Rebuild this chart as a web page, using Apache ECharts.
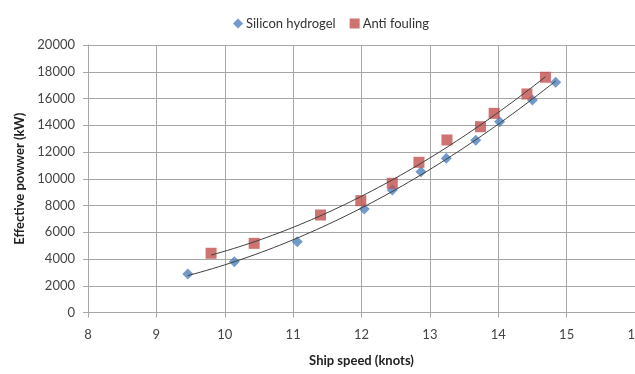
<!DOCTYPE html>
<html>
<head>
<meta charset="utf-8">
<script src="https://cdn.jsdelivr.net/npm/echarts@6/dist/echarts.min.js"></script>
<style>
  html, body { margin: 0; padding: 0; background: #fff; }
  #chart { width: 635px; height: 374px; }
</style>
</head>
<body>
<div id="chart"></div>
<script>
// Ship speed (knots) and effective power (kW) for each hull coating
const siliconSpeed = [9.46, 10.14, 11.06, 12.04, 12.45, 12.87, 13.24, 13.67, 14.02, 14.50, 14.84];
const siliconPower = [2880, 3800, 5290, 7740, 9160, 10530, 11530, 12870, 14270, 15890, 17210];
const foulingSpeed = [9.80, 10.43, 11.40, 11.99, 12.45, 12.84, 13.25, 13.74, 13.94, 14.42, 14.69];
const foulingPower = [4430, 5170, 7290, 8360, 9660, 11230, 12900, 13890, 14890, 16340, 17590];
const seriesNames = ['Silicon hydrogel', 'Anti fouling'];
const speedTicks = [8, 9, 10, 11, 12, 13, 14, 15, 16];
const powerTicks = [0, 2000, 4000, 6000, 8000, 10000, 12000, 14000, 16000, 18000, 20000];

const FONT = 'Lato';
const BLUE = '#4F81BD';
const RED = '#C0504D';
const GRID = '#a6a6a6';

function pairs(xs, ys) { return xs.map((x, i) => [x, ys[i]]); }

// Least-squares second-order polynomial trendline over the data range
function quadTrend(xs, ys, steps) {
  const n = xs.length;
  let s = [0, 0, 0, 0, 0], t = [0, 0, 0];
  for (let i = 0; i < n; i++) {
    const x = xs[i], y = ys[i];
    let p = 1;
    for (let k = 0; k < 5; k++) { s[k] += p; if (k < 3) t[k] += p * y; p *= x; }
  }
  const M = [[s[0], s[1], s[2], t[0]], [s[1], s[2], s[3], t[1]], [s[2], s[3], s[4], t[2]]];
  for (let c = 0; c < 3; c++) {
    for (let r = c + 1; r < 3; r++) {
      const f = M[r][c] / M[c][c];
      for (let k = c; k < 4; k++) M[r][k] -= f * M[c][k];
    }
  }
  const coef = [0, 0, 0];
  for (let r = 2; r >= 0; r--) {
    let v = M[r][3];
    for (let k = r + 1; k < 3; k++) v -= M[r][k] * coef[k];
    coef[r] = v / M[r][r];
  }
  const lo = Math.min(...xs), hi = Math.max(...xs);
  const out = [];
  for (let i = 0; i <= steps; i++) {
    const x = lo + (hi - lo) * i / steps;
    out.push([x, coef[0] + coef[1] * x + coef[2] * x * x]);
  }
  return out;
}

const chart = echarts.init(document.getElementById('chart'), null, { renderer: 'canvas' });

const trendStyle = {
  type: 'line', showSymbol: false, symbol: 'none', silent: true, z: 5,
  lineStyle: { color: '#404040', width: 1 }, tooltip: { show: false }
};

chart.setOption({
  animation: false,
  backgroundColor: '#ffffff',
  textStyle: { fontFamily: FONT },
  legend: {
    data: [
      { name: seriesNames[0], icon: 'diamond' },
      { name: seriesNames[1], icon: 'rect' }
    ],
    left: 228, top: 12,
    itemWidth: 10, itemHeight: 10, itemGap: 14,
    textStyle: { fontFamily: FONT, fontSize: 13, color: '#333', padding: [0, 0, 0, -2] }
  },
  grid: { left: 88, right: 0, top: 45, bottom: 61.5, containLabel: false, outerBoundsMode: 'none' },
  xAxis: {
    type: 'value', min: speedTicks[0], max: speedTicks[speedTicks.length - 1], interval: 1,
    name: 'Ship speed (knots)', nameLocation: 'middle', nameGap: 42,
    nameTextStyle: { fontFamily: FONT, fontSize: 13, fontWeight: 'bold', color: '#222' },
    axisLine: { show: true, onZero: false, lineStyle: { color: GRID, width: 1 } },
    axisTick: { show: true, inside: false, length: 5, lineStyle: { color: GRID } },
    axisLabel: {
      fontFamily: FONT, fontSize: 13, color: '#444', margin: 16,
      showMaxLabel: true, alignMaxLabel: 'center', hideOverlap: false
    },
    splitLine: { show: true, lineStyle: { color: GRID, width: 1 } }
  },
  yAxis: {
    type: 'value', min: powerTicks[0], max: powerTicks[powerTicks.length - 1], interval: 2000,
    name: 'Effective powwer (kW)', nameLocation: 'middle', nameGap: 60, nameRotate: 90,
    nameTextStyle: { fontFamily: FONT, fontSize: 13, fontWeight: 'bold', color: '#222' },
    axisLine: { show: true, lineStyle: { color: GRID, width: 1 } },
    axisTick: { show: true, inside: false, length: 5, lineStyle: { color: GRID } },
    axisLabel: { fontFamily: FONT, fontSize: 13, color: '#444', margin: 13, formatter: v => String(v) },
    splitLine: { show: true, lineStyle: { color: GRID, width: 1 } }
  },
  series: [
    {
      name: seriesNames[0], type: 'scatter', symbol: 'diamond', symbolSize: 11, z: 3,
      itemStyle: { color: BLUE },
      data: pairs(siliconSpeed, siliconPower)
    },
    {
      name: seriesNames[1], type: 'scatter', symbol: 'rect', symbolSize: 11, z: 3,
      itemStyle: { color: RED },
      data: pairs(foulingSpeed, foulingPower)
    },
    Object.assign({ name: 'trend-silicon', data: quadTrend(siliconSpeed, siliconPower, 60) }, trendStyle),
    Object.assign({ name: 'trend-fouling', data: quadTrend(foulingSpeed, foulingPower, 60) }, trendStyle)
  ]
});
</script>
</body>
</html>
